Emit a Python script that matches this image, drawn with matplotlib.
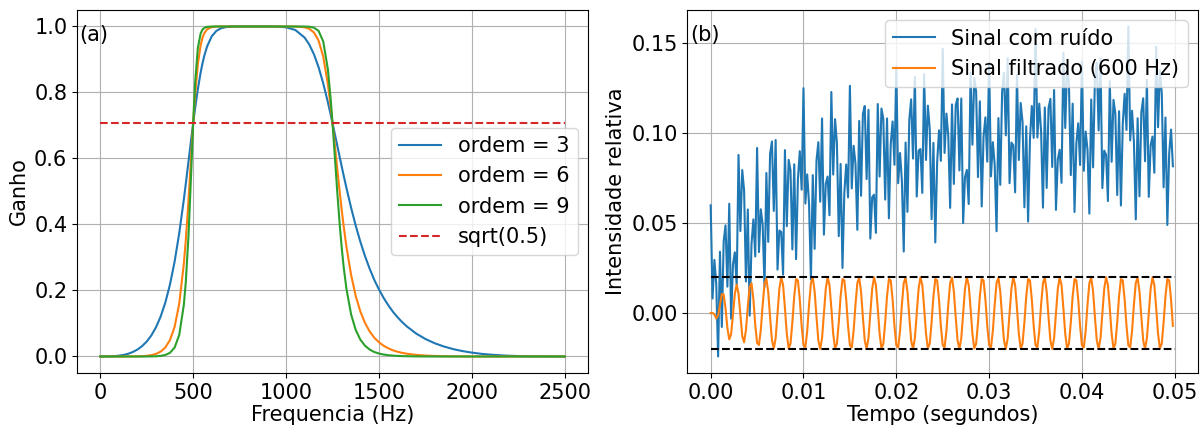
import numpy as np
import matplotlib
matplotlib.use('Agg')
import matplotlib.pyplot as plt
from matplotlib.ticker import MultipleLocator

# (a) resposta em frequencia do passa-banda Butterworth (500-1250 Hz)
freq_hz = [0, 50, 75, 100, 125, 150, 175, 200, 225, 250,
           275, 300, 325, 350, 375, 400, 425, 450, 460, 475,
           490, 500, 510, 525, 540, 550, 560, 575, 600, 625,
           650, 675, 700, 750, 800, 900, 950, 1000, 1050, 1100,
           1125, 1150, 1175, 1200, 1225, 1240, 1250, 1260, 1275, 1290,
           1300, 1310, 1325, 1350, 1375, 1400, 1425, 1450, 1475, 1500,
           1525, 1550, 1575, 1600, 1625, 1650, 1700, 1750, 1800, 1850,
           1900, 1950, 2000, 2050, 2100, 2150, 2200, 2250, 2300, 2350,
           2400, 2500]
ganho_ordem3 = [0.0, 0.0003, 0.0010, 0.0023, 0.0046, 0.0082, 0.0135, 0.0210, 0.0314, 0.0453,
                0.0639, 0.0886, 0.1209, 0.1631, 0.2176, 0.2871, 0.3735, 0.4766, 0.5217, 0.5914,
                0.6617, 0.7071, 0.7504, 0.8093, 0.8597, 0.8876, 0.9114, 0.9397, 0.9703, 0.9867,
                0.9946, 0.9980, 0.9994, 1.0, 1.0, 1.0, 0.9997, 0.9975, 0.9893, 0.9662,
                0.9452, 0.9157, 0.8765, 0.8277, 0.7705, 0.7329, 0.7071, 0.6807, 0.6407, 0.6007,
                0.5743, 0.5483, 0.5104, 0.4507, 0.3962, 0.3473, 0.3040, 0.2658, 0.2318, 0.2032,
                0.1776, 0.1554, 0.1356, 0.1189, 0.1040, 0.0911, 0.0695, 0.0530, 0.0401, 0.0301,
                0.0223, 0.0163, 0.0117, 0.0081, 0.0056, 0.0036, 0.0022, 0.0013, 0.0006, 0.0003,
                0.0001, 0.0]
ganho_ordem6 = [0.0, 0.0, 0.0, 0.0, 0.0, 0.0001, 0.0002, 0.0004, 0.0010, 0.0021,
                0.0041, 0.0079, 0.0148, 0.0273, 0.0496, 0.0895, 0.1600, 0.2820, 0.3502, 0.4737,
                0.6144, 0.7071, 0.7899, 0.8848, 0.9428, 0.9656, 0.9798, 0.9913, 0.9981, 0.9996,
                0.9999, 1.0, 1.0, 1.0, 1.0, 1.0, 1.0, 1.0, 0.9998, 0.9975,
                0.9930, 0.9819, 0.9574, 0.9086, 0.8251, 0.7577, 0.7071, 0.6536, 0.5715, 0.4916,
                0.4415, 0.3949, 0.3322, 0.2470, 0.1831, 0.1359, 0.1013, 0.0759, 0.0567, 0.0430,
                0.0325, 0.0247, 0.0187, 0.0143, 0.0109, 0.0084, 0.0049, 0.0028, 0.0016, 0.0009,
                0.0005, 0.0003, 0.0001, 0.0, 0.0, 0.0, 0.0, 0.0, 0.0, 0.0,
                0.0, 0.0]
ganho_ordem9 = [0.0, 0.0, 0.0, 0.0, 0.0, 0.0, 0.0, 0.0, 0.0, 0.0001,
                0.0003, 0.0007, 0.0018, 0.0045, 0.0111, 0.0269, 0.0651, 0.1574, 0.2229, 0.3670,
                0.5664, 0.7071, 0.8256, 0.9341, 0.9786, 0.9904, 0.9958, 0.9988, 0.9999, 1.0,
                1.0, 1.0, 1.0, 1.0, 1.0, 1.0, 1.0, 1.0, 1.0, 0.9998,
                0.9992, 0.9965, 0.9866, 0.9547, 0.8701, 0.7812, 0.7071, 0.6258, 0.5025, 0.3905,
                0.3263, 0.2712, 0.2046, 0.1276, 0.0801, 0.0508, 0.0325, 0.0210, 0.0135, 0.0089,
                0.0059, 0.0039, 0.0026, 0.0017, 0.0011, 0.0008, 0.0003, 0.0001, 0.0, 0.0,
                0.0, 0.0, 0.0, 0.0, 0.0, 0.0, 0.0, 0.0, 0.0, 0.0,
                0.0, 0.0]
ordens = [3, 6, 9]
ref_freq = [0, 2500]
ref_ganho = [0.7071, 0.7071]

# (b) sinal amostrado a 5000 Hz durante 0.05 s
fs = 5000
sinal_ruido = [
    0.0599, 0.0081, 0.0296, 0.0162, -0.0241, 0.0341, -0.0077, 0.0400, 0.0488, 0.0147,
    0.0608, -0.0031, 0.0270, 0.0338, 0.0157, 0.0879, 0.0456, 0.0795, 0.0682, 0.0176,
    0.0576, -0.0014, 0.0385, 0.0521, 0.0315, 0.0918, 0.0339, 0.0577, 0.0491, 0.0146,
    0.0779, 0.0396, 0.0885, 0.0954, 0.0568, 0.0962, 0.0242, 0.0459, 0.0451, 0.0214,
    0.0906, 0.0483, 0.0852, 0.0793, 0.0354, 0.0827, 0.0300, 0.0745, 0.0900, 0.0686,
    0.1250, 0.0609, 0.0771, 0.0605, 0.0187, 0.0767, 0.0357, 0.0848, 0.0950, 0.0619,
    0.1082, 0.0436, 0.0719, 0.0759, 0.0544, 0.1229, 0.0770, 0.1078, 0.0945, 0.0428,
    0.0829, 0.0251, 0.0669, 0.0826, 0.0643, 0.1263, 0.0693, 0.0930, 0.0831, 0.0463,
    0.1068, 0.0652, 0.1107, 0.1151, 0.0745, 0.1130, 0.0414, 0.0644, 0.0658, 0.0446,
    0.1162, 0.0759, 0.1137, 0.1079, 0.0631, 0.1082, 0.0527, 0.0941, 0.1065, 0.0824,
    0.1370, 0.0722, 0.0890, 0.0737, 0.0342, 0.0948, 0.0563, 0.1075, 0.1188, 0.0859,
    0.1313, 0.0648, 0.0903, 0.0912, 0.0668, 0.1328, 0.0851, 0.1153, 0.1024, 0.0522,
    0.0946, 0.0393, 0.0838, 0.1016, 0.0846, 0.1468, 0.0890, 0.1109, 0.0983, 0.0585,
    0.1160, 0.0718, 0.1157, 0.1193, 0.0793, 0.1193, 0.0500, 0.0756, 0.0796, 0.0606,
    0.1336, 0.0936, 0.1307, 0.1230, 0.0756, 0.1177, 0.0593, 0.0982, 0.1088, 0.0842,
    0.1393, 0.0760, 0.0950, 0.0824, 0.0455, 0.1084, 0.0713, 0.1229, 0.1335, 0.0988,
    0.1417, 0.0722, 0.0948, 0.0933, 0.0671, 0.1324, 0.0851, 0.1168, 0.1062, 0.0588,
    0.1038, 0.0509, 0.0967, 0.1151, 0.0974, 0.1579, 0.0976, 0.1164, 0.1010, 0.0586,
    0.1143, 0.0696, 0.1139, 0.1191, 0.0812, 0.1240, 0.0574, 0.0854, 0.0908, 0.0724,
    0.1447, 0.1029, 0.1377, 0.1271, 0.0767, 0.1164, 0.0562, 0.0944, 0.1055, 0.0823,
    0.1396, 0.0791, 0.1009, 0.0907, 0.0553, 0.1187, 0.0810, 0.1310, 0.1392, 0.1015,
    0.1414, 0.0695, 0.0903, 0.0880, 0.0623, 0.1290, 0.0841, 0.1185, 0.1107, 0.0656,
    0.1122, 0.0598, 0.1052, 0.1219, 0.1018, 0.1593, 0.0960, 0.1125, 0.0952, 0.0521,
    0.1083, 0.0649, 0.1116, 0.1194, 0.0844, 0.1296, 0.0646, 0.0932, 0.0981, 0.0780,
    0.1480, 0.1033, 0.1351, 0.1221, 0.0699, 0.1087, 0.0490, 0.0887, 0.1020, 0.0816,
]
sinal_filtrado = [
    0.0, 0.0001, -0.0007, -0.0030, -0.0013, 0.0046, 0.0106, 0.0103, 0.0027, -0.0083,
    -0.0146, -0.0117, -0.0010, 0.0107, 0.0158, 0.0108, -0.0013, -0.0127, -0.0162, -0.0094,
    0.0037, 0.0146, 0.0166, 0.0078, -0.0065, -0.0165, -0.0177, -0.0094, 0.0045, 0.0162,
    0.0191, 0.0117, -0.0022, -0.0150, -0.0197, -0.0139, -0.0003, 0.0135, 0.0199, 0.0156,
    0.0028, -0.0115, -0.0196, -0.0170, -0.0052, 0.0094, 0.0189, 0.0182, 0.0076, -0.0071,
    -0.0179, -0.0191, -0.0099, 0.0047, 0.0167, 0.0197, 0.0120, -0.0022, -0.0152, -0.0199,
    -0.0139, -0.0003, 0.0135, 0.0199, 0.0156, 0.0028, -0.0115, -0.0196, -0.0170, -0.0052,
    0.0094, 0.0189, 0.0182, 0.0076, -0.0071, -0.0179, -0.0191, -0.0099, 0.0047, 0.0167,
    0.0197, 0.0120, -0.0022, -0.0152, -0.0199, -0.0139, -0.0003, 0.0135, 0.0199, 0.0156,
    0.0028, -0.0115, -0.0196, -0.0170, -0.0052, 0.0094, 0.0189, 0.0182, 0.0076, -0.0071,
    -0.0179, -0.0191, -0.0099, 0.0047, 0.0167, 0.0197, 0.0120, -0.0022, -0.0152, -0.0199,
    -0.0139, -0.0003, 0.0135, 0.0199, 0.0156, 0.0028, -0.0115, -0.0196, -0.0170, -0.0052,
    0.0094, 0.0189, 0.0182, 0.0076, -0.0071, -0.0179, -0.0191, -0.0099, 0.0047, 0.0167,
    0.0197, 0.0120, -0.0022, -0.0152, -0.0199, -0.0139, -0.0003, 0.0135, 0.0199, 0.0156,
    0.0028, -0.0115, -0.0196, -0.0170, -0.0052, 0.0094, 0.0189, 0.0182, 0.0076, -0.0071,
    -0.0179, -0.0191, -0.0099, 0.0047, 0.0167, 0.0197, 0.0120, -0.0022, -0.0152, -0.0199,
    -0.0139, -0.0003, 0.0135, 0.0199, 0.0156, 0.0028, -0.0115, -0.0196, -0.0170, -0.0052,
    0.0094, 0.0189, 0.0182, 0.0076, -0.0071, -0.0179, -0.0191, -0.0099, 0.0047, 0.0167,
    0.0197, 0.0120, -0.0022, -0.0152, -0.0199, -0.0139, -0.0003, 0.0135, 0.0199, 0.0156,
    0.0028, -0.0115, -0.0196, -0.0170, -0.0052, 0.0094, 0.0189, 0.0182, 0.0076, -0.0071,
    -0.0179, -0.0191, -0.0099, 0.0047, 0.0167, 0.0197, 0.0120, -0.0022, -0.0152, -0.0199,
    -0.0139, -0.0003, 0.0135, 0.0199, 0.0156, 0.0028, -0.0115, -0.0196, -0.0170, -0.0052,
    0.0094, 0.0189, 0.0182, 0.0076, -0.0071, -0.0179, -0.0191, -0.0099, 0.0047, 0.0167,
    0.0197, 0.0120, -0.0022, -0.0152, -0.0199, -0.0139, -0.0003, 0.0135, 0.0199, 0.0156,
    0.0028, -0.0115, -0.0196, -0.0170, -0.0052, 0.0094, 0.0189, 0.0182, 0.0076, -0.0071,
]
amplitude = 0.02
duracao = 0.05
f0 = 600

plt.rcParams['font.size'] = 15

fig = plt.figure(figsize=(12, 4.3), dpi=100)
ax1 = fig.add_axes([0.0642, 0.1326, 0.4258, 0.8442])
ax2 = fig.add_axes([0.5729, 0.1326, 0.4254, 0.8442])

# Plot (a)
for ordem, ganho in zip(ordens, [ganho_ordem3, ganho_ordem6, ganho_ordem9]):
    ax1.plot(freq_hz, ganho, label='ordem = %d' % ordem)
ax1.plot(ref_freq, ref_ganho, '--', label='sqrt(0.5)')
ax1.set_xlabel('Frequencia (Hz)', labelpad=2)
ax1.set_ylabel('Ganho')
ax1.grid(True)
ax1.legend(loc='center right')
ax1.text(0.005, 0.93, '(a)', transform=ax1.transAxes, va='center')

# Plot (b)
t = np.arange(len(sinal_ruido)) / fs
ax2.plot(t, sinal_ruido, label='Sinal com ruído')
ax2.plot(t, sinal_filtrado, label='Sinal filtrado (%g Hz)' % f0)
ax2.hlines([-amplitude, amplitude], 0, duracao, colors='k', linestyles='--')
ax2.yaxis.set_major_locator(MultipleLocator(0.05))
ax2.set_xlabel('Tempo (segundos)', labelpad=2)
ax2.set_ylabel('Intensidade relativa')
ax2.grid(True)
ax2.legend(loc='upper right')
ax2.text(0.005, 0.93, '(b)', transform=ax2.transAxes, va='center')

fig.savefig('out.png', dpi=100)
